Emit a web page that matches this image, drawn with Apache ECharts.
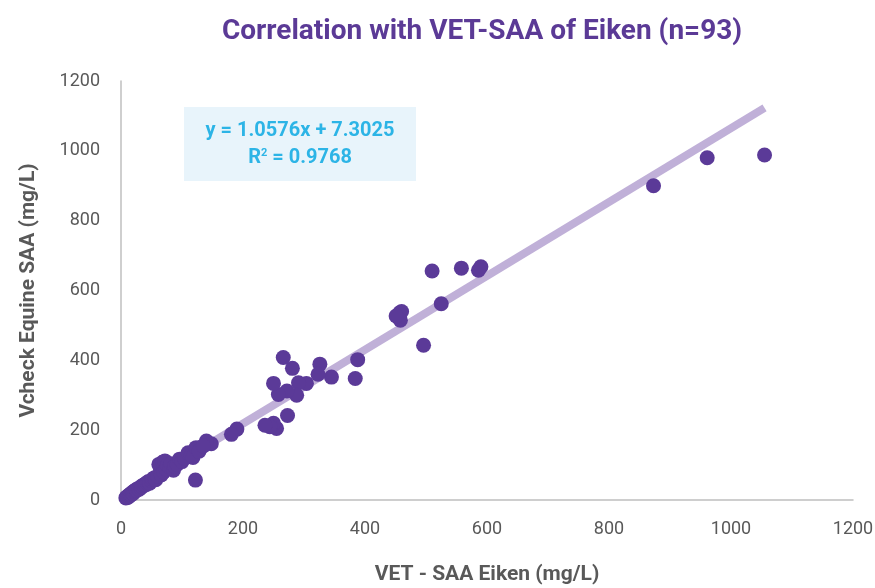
<!DOCTYPE html>
<html>
<head>
<meta charset="utf-8">
<script src="https://cdn.jsdelivr.net/npm/echarts@6/dist/echarts.min.js"></script>
<style>
  html, body { margin: 0; padding: 0; background: #fff; }
  #main { width: 875px; height: 588px; }
</style>
</head>
<body>
<div id="main"></div>
<script>
// VET-SAA Eiken (x) vs Vcheck Equine SAA (y), mg/L, n=93
var eikenValues = [
  1055, 961, 873, 590, 586, 558, 510, 525, 457, 460, 458, 451, 496, 388, 384, 345, 326, 323,
  304, 291, 288, 281, 272, 266, 258, 250, 273, 255, 250, 244, 236, 190, 181, 148, 130, 122,
  8, 9, 10, 11, 12, 13, 14, 15, 16, 17, 18, 19, 20, 21, 22, 24, 25, 26, 28, 30, 32, 34, 35,
  37, 39, 41, 43, 45, 47, 50, 52, 55, 57, 60, 62, 64, 66, 68, 70, 72, 74, 76, 80, 82, 86, 88,
  92, 96, 100, 104, 110, 115, 118, 123, 128, 140, 135
];
var vcheckValues = [
  988, 980, 900, 668, 658, 664, 656, 562, 536, 540, 515, 527, 443, 402, 348, 352, 389, 360,
  334, 336, 300, 377, 312, 408, 302, 334, 242, 205, 220, 210, 214, 203, 188, 161, 150, 57,
  6, 8, 9, 7, 12, 10, 15, 13, 18, 16, 20, 22, 19, 25, 24, 27, 30, 28, 33, 31, 36, 40, 38,
  43, 45, 44, 50, 53, 48, 55, 60, 64, 58, 68, 102, 95, 72, 108, 80, 112, 88, 100, 94, 104, 85, 97,
  102, 117, 110, 120, 135, 128, 122, 150, 140, 169, 155
];

// trendline shown on the chart
var trendSlope = 1.0576;
var trendIntercept = 7.3025;
var trendR2 = 0.9768;

var axisTicks = [0, 200, 400, 600, 800, 1000, 1200];

var narrow = "Roboto, 'Noto Sans', sans-serif";

var points = [];
for (var i = 0; i < eikenValues.length; i++) {
  points.push([eikenValues[i], vcheckValues[i]]);
}
var minX = Math.min.apply(null, eikenValues);
var maxX = Math.max.apply(null, eikenValues);
var trendData = [
  [minX, trendSlope * minX + trendIntercept],
  [maxX, trendSlope * maxX + trendIntercept]
];

var myChart = echarts.init(document.getElementById('main'));
myChart.setOption({
  animation: false,
  title: {
    text: 'Correlation with VET-SAA of Eiken (n=93)',
    left: 477,
    textAlign: 'center',
    top: 13,
    textStyle: {
      fontFamily: narrow,
      fontSize: 28,
      fontWeight: 'bold',
      color: '#5b3a96'
    }
  },
  grid: {
    left: 121,
    right: 22,
    top: 81,
    bottom: 88,
    outerBoundsMode: 'none'
  },
  xAxis: {
    type: 'value',
    min: axisTicks[0],
    max: axisTicks[axisTicks.length - 1],
    interval: 200,
    name: 'VET - SAA Eiken (mg/L)',
    nameLocation: 'middle',
    nameGap: 64,
    nameTextStyle: {
      fontFamily: narrow,
      fontSize: 21,
      fontWeight: 'bold',
      color: '#595959'
    },
    axisLine: { show: true, lineStyle: { color: '#bfbfbf', width: 1.5 } },
    axisTick: { show: false },
    splitLine: { show: false },
    axisLabel: {
      margin: 20,
      fontFamily: narrow,
      fontSize: 18,
      color: '#595959',
      formatter: function (v) { return String(v); }
    }
  },
  yAxis: {
    type: 'value',
    min: axisTicks[0],
    max: axisTicks[axisTicks.length - 1],
    interval: 200,
    name: 'Vcheck Equine SAA (mg/L)',
    nameLocation: 'middle',
    nameGap: 82,
    nameTextStyle: {
      fontFamily: narrow,
      fontSize: 21,
      fontWeight: 'bold',
      color: '#595959'
    },
    axisLine: { show: true, lineStyle: { color: '#bfbfbf', width: 1.5 } },
    axisTick: { show: false },
    splitLine: { show: false },
    axisLabel: {
      margin: 21,
      fontFamily: narrow,
      fontSize: 18,
      color: '#595959',
      formatter: function (v) { return String(v); }
    }
  },
  graphic: [
    {
      type: 'rect',
      x: 184,
      y: 107,
      shape: { x: 0, y: 0, width: 232, height: 74 },
      style: { fill: '#e8f4fb' },
      z: 10
    },
    {
      type: 'text',
      x: 300,
      y: 131,
      style: {
        text: 'y = ' + trendSlope + 'x + ' + trendIntercept,
        textAlign: 'center',
        textVerticalAlign: 'middle',
        fill: '#2cb4e6',
        font: 'bold 20px ' + narrow
      },
      z: 11
    },
    {
      type: 'text',
      x: 300,
      y: 158,
      style: {
        text: '{b|R}{s|2}{b| = ' + trendR2 + '}',
        textAlign: 'center',
        textVerticalAlign: 'middle',
        rich: {
          b: { fill: '#2cb4e6', font: 'bold 20px ' + narrow },
          s: { fill: '#2cb4e6', font: 'bold 11px ' + narrow, verticalAlign: 'top' }
        }
      },
      z: 11
    }
  ],
  series: [
    {
      name: 'Trendline',
      type: 'line',
      data: trendData,
      symbol: 'none',
      lineStyle: { color: '#c0b0d8', width: 8 },
      z: 1,
      silent: true
    },
    {
      name: 'Samples',
      type: 'scatter',
      data: points,
      symbolSize: 15,
      itemStyle: { color: '#5b3a98', opacity: 1 },
      z: 2
    }
  ]
});
</script>
</body>
</html>
